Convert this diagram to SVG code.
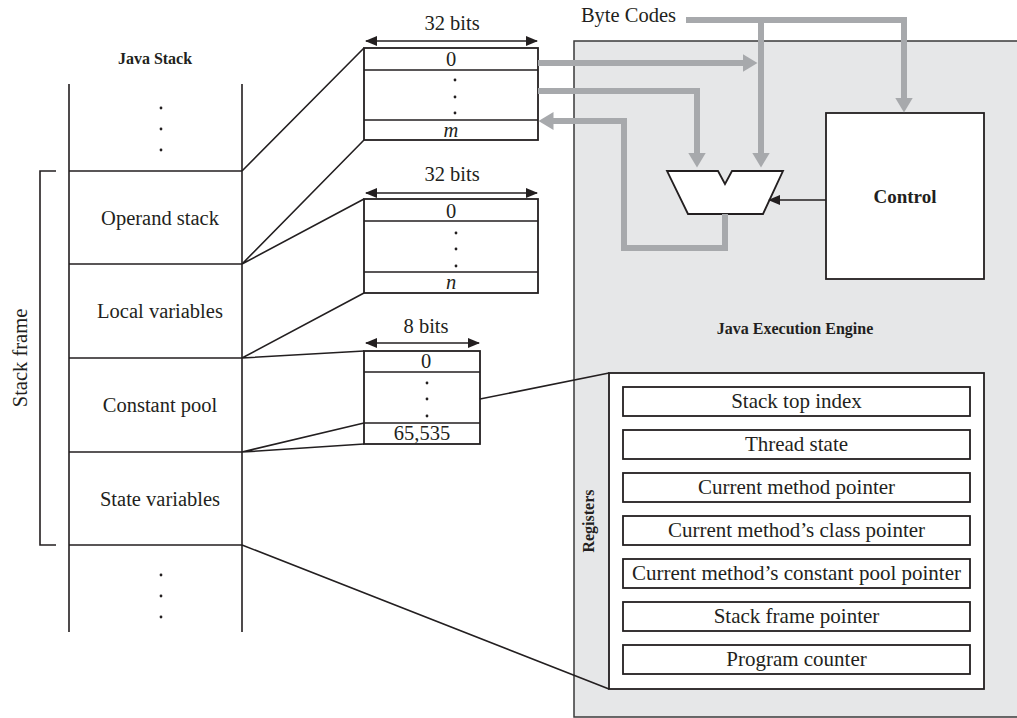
<svg xmlns="http://www.w3.org/2000/svg" width="1017" height="718" viewBox="0 0 1017 718">
<style>
text{font-family:"Liberation Serif","Times New Roman",serif;fill:#231f20;font-size:20.5px}
.c{text-anchor:middle}
.b{font-weight:bold;font-size:16px}
.i{font-style:italic}
.r{font-size:21px}
.ln{stroke:#231f20;stroke-width:1.6;fill:none}
.box{stroke:#231f20;stroke-width:1.8;fill:#fff}
.bus{stroke:#a7a9ac;stroke-width:6;fill:none;stroke-linejoin:miter}
.dot{fill:#231f20}
</style>
<defs>
<marker id="ga" markerUnits="userSpaceOnUse" markerWidth="16" markerHeight="18" refX="0.5" refY="9" orient="auto">
<path d="M0,0 L15,9 L0,18 z" fill="#a7a9ac"/>
</marker>
<marker id="ka" markerUnits="userSpaceOnUse" markerWidth="12" markerHeight="10" refX="11" refY="5" orient="auto-start-reverse">
<path d="M0,0 L12,5 L0,10 z" fill="#231f20"/>
</marker>
</defs>

<!-- Execution engine background -->
<g id="engine">
<rect x="574" y="41" width="500" height="676" fill="#e6e7e8" stroke="#3a3a3a" stroke-width="1.5"/>
<text class="c b" x="795" y="334">Java Execution Engine</text>
</g>

<!-- Java stack -->
<g id="java-stack">
<text class="c b" x="155" y="64">Java Stack</text>
<path class="ln" d="M69,84 V632 M242,84 V632 M69,171 H242 M69,264 H242 M69,358 H242 M69,452 H242 M69,545 H242"/>
<circle class="dot" cx="161" cy="108" r="1.4"/><circle class="dot" cx="161" cy="129" r="1.4"/><circle class="dot" cx="161" cy="150" r="1.4"/>
<circle class="dot" cx="161" cy="575" r="1.4"/><circle class="dot" cx="161" cy="596" r="1.4"/><circle class="dot" cx="161" cy="617" r="1.4"/>
<text class="c" x="160" y="225">Operand stack</text>
<text class="c" x="160" y="318">Local variables</text>
<text class="c" x="160" y="412">Constant pool</text>
<text class="c" x="160" y="506">State variables</text>
</g>

<g id="stack-frame">
<path class="ln" d="M56,171 H40 V545 H56"/>
<text class="c" transform="translate(27,358) rotate(-90)">Stack frame</text>
</g>

<!-- Operand stack detail -->
<g id="operand-box">
<text class="c" x="452" y="30">32 bits</text>
<line class="ln" x1="366" y1="41" x2="537" y2="41" stroke-width="2" marker-start="url(#ka)" marker-end="url(#ka)"/>
<rect class="box" x="364" y="48" width="174" height="92"/>
<path class="ln" d="M364,70 H538 M364,120 H538"/>
<text class="c" x="451" y="66">0</text>
<circle class="dot" cx="455" cy="80" r="1.4"/><circle class="dot" cx="455" cy="97" r="1.4"/><circle class="dot" cx="455" cy="113" r="1.4"/>
<text class="c i" x="451" y="137">m</text>
</g>

<!-- Local variables detail -->
<g id="local-box">
<text class="c" x="452" y="181">32 bits</text>
<line class="ln" x1="366" y1="193" x2="537" y2="193" stroke-width="2" marker-start="url(#ka)" marker-end="url(#ka)"/>
<rect class="box" x="364" y="199" width="174" height="94"/>
<path class="ln" d="M364,221 H538 M364,272 H538"/>
<text class="c" x="451" y="218">0</text>
<circle class="dot" cx="456" cy="233" r="1.4"/><circle class="dot" cx="456" cy="249" r="1.4"/><circle class="dot" cx="456" cy="266" r="1.4"/>
<text class="c i" x="451" y="289">n</text>
</g>

<!-- Constant pool detail -->
<g id="pool-box">
<text class="c" x="426" y="333">8 bits</text>
<line class="ln" x1="366" y1="343" x2="479" y2="343" stroke-width="2" marker-start="url(#ka)" marker-end="url(#ka)"/>
<rect class="box" x="364" y="351" width="116" height="93"/>
<path class="ln" d="M364,372 H480 M364,423 H480"/>
<text class="c" x="426" y="368">0</text>
<circle class="dot" cx="427" cy="383" r="1.4"/><circle class="dot" cx="427" cy="399" r="1.4"/><circle class="dot" cx="427" cy="416" r="1.4"/>
<text class="c" x="422" y="440">65,535</text>
</g>

<!-- Control -->
<g id="control">
<rect class="box" x="826" y="113" width="158" height="166"/>
<text class="c b" x="905" y="203" style="font-size:19px">Control</text>
</g>

<!-- ALU -->
<g id="alu">
<polygon class="box" points="667,171 718,171 725,184 732,171 783,171 763,214 688,214"/>
</g>

<!-- Registers -->
<g id="registers">
<rect class="box" x="609" y="373" width="375" height="316"/>
<text class="c b" transform="translate(594,521) rotate(-90)">Registers</text>
<rect class="box" x="623" y="387" width="347" height="29"/>
<text class="c r" x="796.5" y="408">Stack top index</text>
<rect class="box" x="623" y="430" width="347" height="29"/>
<text class="c r" x="796.5" y="451">Thread state</text>
<rect class="box" x="623" y="473" width="347" height="29"/>
<text class="c r" x="796.5" y="494">Current method pointer</text>
<rect class="box" x="623" y="516" width="347" height="29"/>
<text class="c r" x="796.5" y="537">Current method’s class pointer</text>
<rect class="box" x="623" y="559" width="347" height="29"/>
<text class="c r" x="796.5" y="580">Current method’s constant pool pointer</text>
<rect class="box" x="623" y="602" width="347" height="29"/>
<text class="c r" x="796.5" y="623">Stack frame pointer</text>
<rect class="box" x="623" y="645" width="347" height="29"/>
<text class="c r" x="796.5" y="666">Program counter</text>
</g>

<g id="byte-codes">
<text x="676" y="22" style="text-anchor:end">Byte Codes</text>
</g>

<!-- Connectors -->
<g id="connectors">
<path class="ln" d="M242,171 L364,48 M242,264 L364,140 M242,264 L364,199 M242,358 L364,293 M242,358 L364,351 M242,452 L364,423 M242,452 L364,444 M242,545 L609,689 M480,399 L609,373"/>
<path class="bus" d="M686,20 H904 V98" marker-end="url(#ga)"/>
<path class="bus" d="M761,20 V153" marker-end="url(#ga)"/>
<path class="bus" d="M538,63 H743" marker-end="url(#ga)"/>
<path class="bus" d="M538,91 H697 V153" marker-end="url(#ga)"/>
<path class="bus" d="M725,214 V248 H624 V121 H553" marker-end="url(#ga)"/>
<line class="ln" x1="826" y1="200" x2="769" y2="200" marker-end="url(#ka)"/>
</g>
</svg>
